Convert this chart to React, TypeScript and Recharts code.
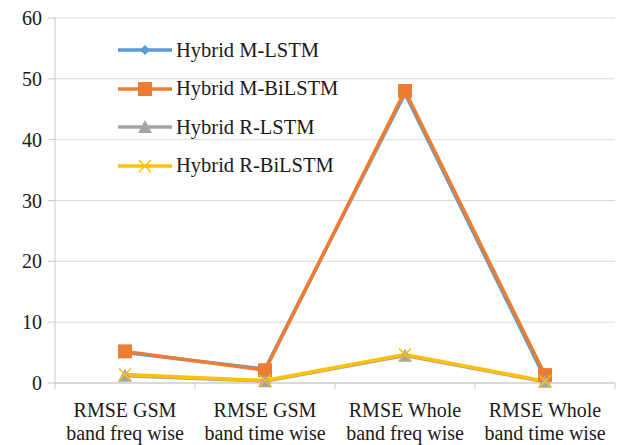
import { LineChart, Line, XAxis, YAxis, CartesianGrid } from 'recharts'

const categories = [
  ['RMSE GSM', 'band freq wise'],
  ['RMSE GSM', 'band time wise'],
  ['RMSE Whole', 'band freq wise'],
  ['RMSE Whole', 'band time wise'],
]
const mLstm = [5.0, 2.3, 47.6, 0.8]
const mBiLstm = [5.2, 2.1, 48.0, 1.3]
const rLstm = [1.2, 0.3, 4.5, 0.2]
const rBiLstm = [1.4, 0.4, 4.7, 0.3]
const yTicks = [0, 10, 20, 30, 40, 50, 60]

const series = [
  { key: 'mLstm', name: 'Hybrid M-LSTM', color: '#5B9BD5', marker: 'diamond' },
  { key: 'mBiLstm', name: 'Hybrid M-BiLSTM', color: '#ED7D31', marker: 'square' },
  { key: 'rLstm', name: 'Hybrid R-LSTM', color: '#A5A5A5', marker: 'triangle' },
  { key: 'rBiLstm', name: 'Hybrid R-BiLSTM', color: '#FFC000', marker: 'x' },
]

const data = categories.map((_, i) => ({
  x: i + 0.5,
  mLstm: mLstm[i],
  mBiLstm: mBiLstm[i],
  rLstm: rLstm[i],
  rBiLstm: rBiLstm[i],
}))

const FONT = "'Liberation Serif', 'Times New Roman', Tinos, 'DejaVu Serif', 'Noto Serif', serif"
const AXIS = '#c8c8c8'

function Marker({ type, cx, cy, color }: { type: string; cx: number; cy: number; color: string }) {
  if (type === 'diamond') {
    const s = 5
    return <path d={`M${cx},${cy - s}L${cx + s},${cy}L${cx},${cy + s}L${cx - s},${cy}Z`} fill={color} />
  }
  if (type === 'square') {
    return <rect x={cx - 7} y={cy - 7} width={14} height={14} fill={color} />
  }
  if (type === 'triangle') {
    return <path d={`M${cx},${cy - 7}L${cx + 7},${cy + 6}L${cx - 7},${cy + 6}Z`} fill={color} />
  }
  return (
    <g stroke={color} strokeWidth={1.5}>
      <line x1={cx - 6} y1={cy - 6} x2={cx + 6} y2={cy + 6} />
      <line x1={cx - 6} y1={cy + 6} x2={cx + 6} y2={cy - 6} />
    </g>
  )
}

function XTick(props: any) {
  const { x, y, payload } = props
  const v = payload.value
  if (Number.isInteger(v)) {
    return <line x1={x} y1={y} x2={x} y2={y + 6} stroke={AXIS} />
  }
  const lines = categories[Math.floor(v)]
  return (
    <g style={{ fontFamily: FONT }}>
      <text x={x} y={y + 34} textAnchor="middle" fontSize={20} fill="#1a1a1a">{lines[0]}</text>
      <text x={x} y={y + 57} textAnchor="middle" fontSize={20} fill="#1a1a1a">{lines[1]}</text>
    </g>
  )
}

function LegendBox() {
  return (
    <div style={{ position: 'absolute', left: 116, top: 31, fontFamily: FONT, fontSize: 20.5, color: '#1a1a1a', pointerEvents: 'none' }}>
      {series.map(s => (
        <div key={s.key} style={{ display: 'flex', alignItems: 'center', height: 38.5 }}>
          <svg width={58} height={18} style={{ marginRight: 2 }}>
            <line x1={2} y1={9} x2={56} y2={9} stroke={s.color} strokeWidth={3.5} />
            <Marker type={s.marker} cx={29} cy={9} color={s.color} />
          </svg>
          <span>{s.name}</span>
        </div>
      ))}
    </div>
  )
}

export default function App() {
  return (
    <div style={{ position: 'absolute', left: 0, top: 0, width: 626, height: 445, background: '#fff' }}>
      <LineChart width={626} height={445} data={data} margin={{ top: 18, right: 11, bottom: 0, left: 0 }} style={{ fontFamily: FONT }}>
        <CartesianGrid horizontal vertical={false} stroke="#d9d9d9" />
        <XAxis
          dataKey="x"
          type="number"
          domain={[0, 4]}
          ticks={[0, 0.5, 1, 1.5, 2, 2.5, 3, 3.5, 4]}
          interval={0}
          tickLine={false}
          tickSize={0}
          tickMargin={0}
          axisLine={{ stroke: AXIS }}
          height={62}
          tick={<XTick />}
        />
        <YAxis
          domain={[0, 60]}
          ticks={yTicks}
          interval={0}
          width={55}
          tickSize={7}
          tickMargin={6}
          axisLine={{ stroke: AXIS }}
          tickLine={{ stroke: AXIS }}
          tick={{ fontSize: 20, fill: '#1a1a1a' }}
        />
        {series.map(s => (
          <Line
            key={s.key}
            dataKey={s.key}
            name={s.name}
            stroke={s.color}
            strokeWidth={3.5}
            isAnimationActive={false}
            dot={(p: any) => <Marker key={`${s.key}-${p.index}`} type={s.marker} cx={p.cx} cy={p.cy} color={s.color} />}
          />
        ))}
      </LineChart>
      <LegendBox />
    </div>
  )
}
